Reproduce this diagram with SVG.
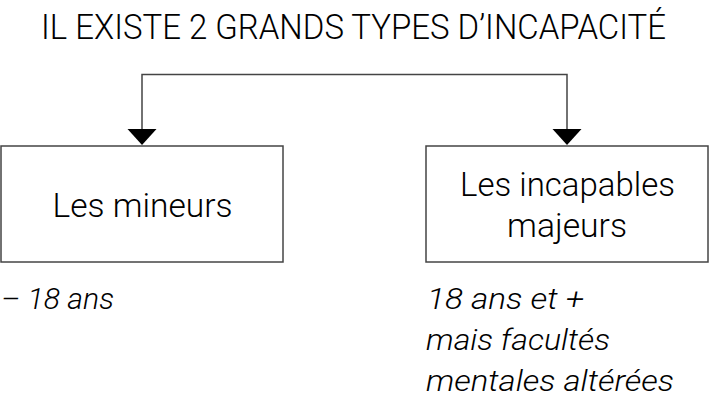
<svg xmlns="http://www.w3.org/2000/svg" width="709" height="408" viewBox="0 0 709 408">
<defs>
<style>
text{font-family:"Roboto","DejaVu Sans Condensed",sans-serif;font-weight:300;fill:#000}
.title{font-size:35px;text-anchor:middle}
.lbl{font-size:34px;text-anchor:middle}
.note{font-size:29px;font-style:italic}
.box{fill:#fff;stroke:#444;stroke-width:1.5}
.conn{fill:none;stroke:#444;stroke-width:1.5}
.head{fill:#000}
</style>
</defs>
<text class="title" x="353.5" y="39" textLength="625" lengthAdjust="spacingAndGlyphs">IL EXISTE 2 GRANDS TYPES D’INCAPACITÉ</text>
<g id="connectors">
<path class="conn" d="M142,130 V74.5 H567 V130"/>
<path class="head" d="M127.5,129 L156.5,129 L142,145 Z"/>
<path class="head" d="M552.5,129 L581.5,129 L567,145 Z"/>
</g>
<g id="mineurs">
<rect class="box" x="1" y="146" width="282" height="116"/>
<text class="lbl" x="142.5" y="217" textLength="180" lengthAdjust="spacingAndGlyphs">Les mineurs</text>
</g>
<g id="majeurs">
<rect class="box" x="426" y="146" width="282" height="116"/>
<text class="lbl" x="567.5" y="196" textLength="215" lengthAdjust="spacingAndGlyphs">Les incapables</text>
<text class="lbl" x="567" y="237" textLength="120" lengthAdjust="spacingAndGlyphs">majeurs</text>
</g>
<g id="notes">
<text class="note" x="1" y="309" textLength="113" lengthAdjust="spacingAndGlyphs">– 18 ans</text>
<text class="note" x="427" y="309" textLength="157" lengthAdjust="spacingAndGlyphs">18 ans et +</text>
<text class="note" x="426" y="350" textLength="184" lengthAdjust="spacingAndGlyphs">mais facultés</text>
<text class="note" x="426" y="391" textLength="248" lengthAdjust="spacingAndGlyphs">mentales altérées</text>
</g>
</svg>
